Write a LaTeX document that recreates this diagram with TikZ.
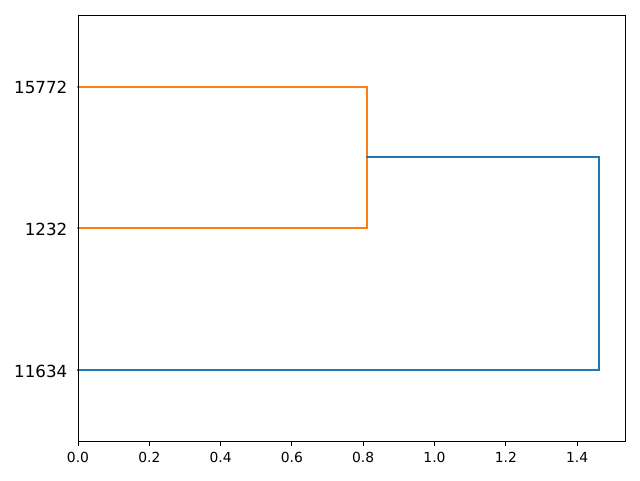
\documentclass[tikz,border=0pt]{standalone}
\usepackage{fontspec}
\setmainfont{DejaVu Sans}
\definecolor{mplorange}{HTML}{FF7F0E}
\definecolor{mplblue}{HTML}{1F77B4}
\begin{document}
\begin{tikzpicture}[x=0.75pt,y=-0.75pt,
  axisline/.style={line width=0.75pt,black},
  link/.style={line width=1.5pt,line cap=rect},
  xlab/.style={font=\fontsize{10.4}{12}\selectfont,anchor=north,inner sep=0pt},
  ylab/.style={font=\fontsize{12.5}{14}\selectfont,anchor=east,inner sep=0pt}]
\fill[white] (0,0) rectangle (640,480);
\useasboundingbox (0,0) rectangle (640,480);
% leaves and merges
\coordinate (l1) at (78,86.5);
\coordinate (l2) at (78,228);
\coordinate (l3) at (78,369.5);
\coordinate (m1) at (366.7,157);
\coordinate (m2) at (598.8,263.5);
% links
\draw[link,mplorange] (l1) -- (l1 -| m1) -- (l2 -| m1) -- (l2);
\draw[link,mplblue] (m1) -- (m1 -| m2) -- (l3 -| m2) -- (l3);
% axes frame
\draw[axisline] (78,15) rectangle (625.5,441);
% x ticks
\foreach \v/\t in {0/0.0,0.2/0.2,0.4/0.4,0.6/0.6,0.8/0.8,1.0/1.0,1.2/1.2,1.4/1.4}{
  \pgfmathsetmacro{\px}{78+\v*356.5}
  \draw[axisline] (\px,441) -- (\px,446);
  \node[xlab] at (\px,452) {\t};
}
% y labels
\node[ylab] (y1) at (67.5,87) {15772};
\node[ylab] (y2) at (67.5,229) {1232};
\node[ylab] (y3) at (67.5,371) {11634};
\end{tikzpicture}
\end{document}
